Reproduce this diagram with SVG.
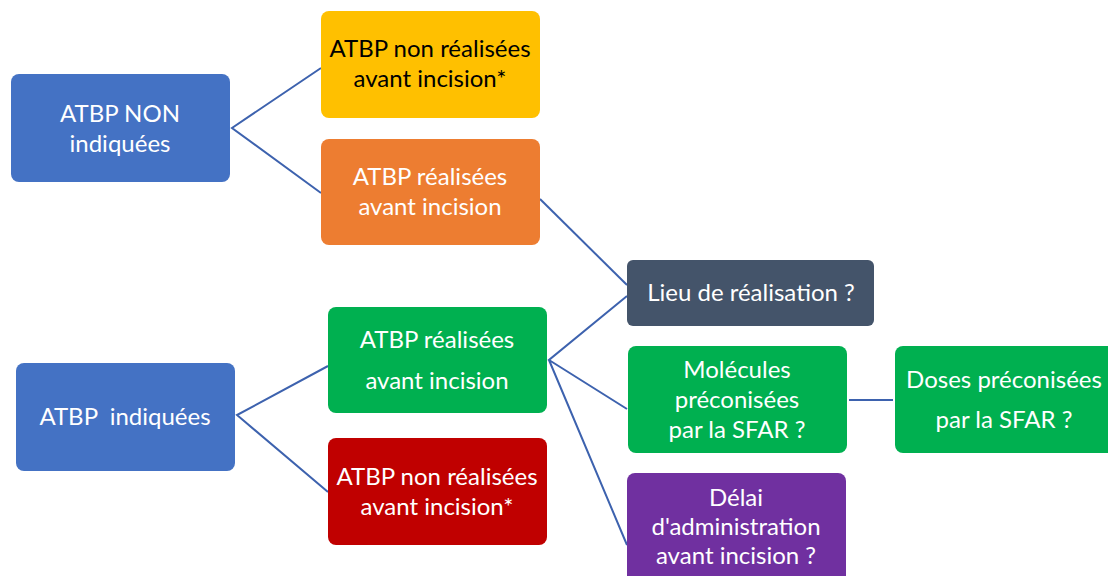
<svg xmlns="http://www.w3.org/2000/svg" width="1108" height="576" viewBox="0 0 1108 576">
<style>
.t{font-family:Lato,"Open Sans","Liberation Sans",sans-serif;font-size:24px;fill:#fff;text-anchor:middle}
.k{fill:#000}
.c{stroke:#3D62AE;stroke-width:2;fill:none}
</style>
<rect width="1108" height="576" fill="#fff"/>
<g id="connectors">
<path class="c" d="M321 68 L232 128 L321 193"/>
<path class="c" d="M540 199 L627 285"/>
<path class="c" d="M328 366 L237 415 L328 492"/>
<path class="c" d="M627 296 L549 360 L627 409 M549 360 L627 545"/>
<path class="c" d="M849 400 L893 400"/>
</g>
<g id="n1"><rect x="11" y="74" width="219" height="108" rx="8" fill="#4472C4"/><text class="t" x="120" y="122">ATBP NON</text><text class="t" x="120" y="152">indiquées</text></g>
<g id="n2"><rect x="321" y="11" width="219" height="107" rx="8" fill="#FFC000"/><text class="t k" x="430" y="57">ATBP non réalisées</text><text class="t k" x="430" y="87">avant incision*</text></g>
<g id="n3"><rect x="321" y="139" width="219" height="106" rx="8" fill="#ED7D31"/><text class="t" x="430" y="185">ATBP réalisées</text><text class="t" x="430" y="215">avant incision</text></g>
<g id="n4"><rect x="627" y="260" width="247" height="66" rx="6" fill="#44546A"/><text class="t" x="751" y="301">Lieu de réalisation ?</text></g>
<g id="n5"><rect x="16" y="363" width="219" height="108" rx="8" fill="#4472C4"/><text class="t" x="125" y="425" xml:space="preserve">ATBP  indiquées</text></g>
<g id="n6"><rect x="328" y="307" width="219" height="106" rx="8" fill="#00B050"/><text class="t" x="437" y="348">ATBP réalisées</text><text class="t" x="437" y="389">avant incision</text></g>
<g id="n7"><rect x="328" y="438" width="219" height="107" rx="8" fill="#C00000"/><text class="t" x="437" y="485">ATBP non réalisées</text><text class="t" x="437" y="515">avant incision*</text></g>
<g id="n8"><rect x="628" y="346" width="219" height="107" rx="8" fill="#00B050"/><text class="t" x="737" y="378">Molécules</text><text class="t" x="737" y="408">préconisées</text><text class="t" x="737" y="438">par la SFAR ?</text></g>
<g id="n9"><rect x="895" y="346" width="225" height="107" rx="8" fill="#00B050"/><text class="t" x="1004" y="388">Doses préconisées</text><text class="t" x="1004" y="428">par la SFAR ?</text></g>
<g id="n10"><rect x="627" y="473" width="219" height="115" rx="8" fill="#7030A0"/><text class="t" x="736" y="506">Délai</text><text class="t" x="736" y="535">d'administration</text><text class="t" x="736" y="564">avant incision ?</text></g>
</svg>
